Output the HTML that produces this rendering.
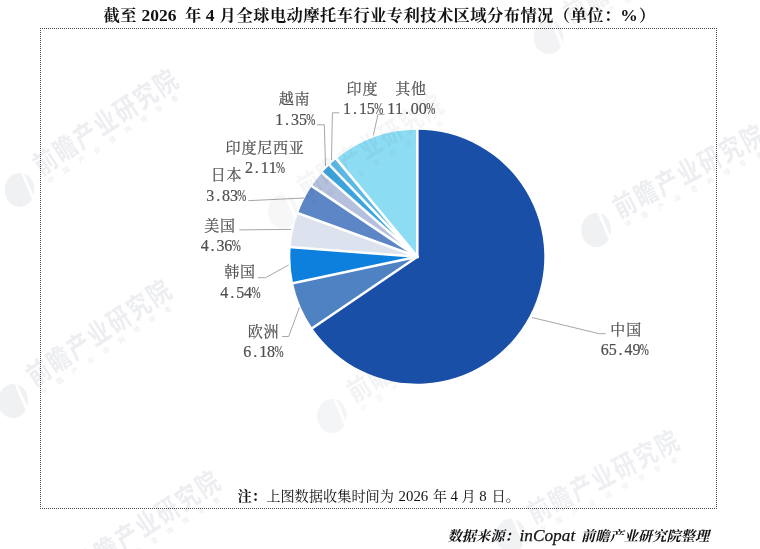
<!DOCTYPE html>
<html lang="zh-CN">
<head>
<meta charset="utf-8">
<title>截至2026年4月全球电动摩托车行业专利技术区域分布情况（单位：%）</title>
<style>
html,body{margin:0;padding:0;background:#fff}
body{width:760px;height:549px;overflow:hidden;font-family:"Liberation Serif",serif}
svg{display:block;position:absolute;left:0;top:0;will-change:transform}
text{white-space:pre}
.wm1{font-family:"Liberation Sans","Noto Sans CJK SC",sans-serif;font-size:22px;font-weight:bold}
.wm2{font-family:"Liberation Sans","Noto Sans CJK SC",sans-serif;font-size:7px;font-weight:bold}
.lab{font-family:"Liberation Serif","Noto Serif CJK SC",serif;font-size:15px}
.ttl{font-family:"Liberation Serif","Noto Serif CJK SC",serif;font-size:16.3px;font-weight:bold}
.nt{font-family:"Liberation Serif","Noto Serif CJK SC",serif;font-size:14.2px}
.src{font-family:"Liberation Serif","Noto Serif CJK SC",serif;font-size:14.2px;font-weight:bold}
</style>
</head>
<body>
<svg width="760" height="549" viewBox="0 0 760 549" role="img" aria-label="截至2026年4月全球电动摩托车行业专利技术区域分布情况（单位：%）">
<path d="M40 28.5H717M40 508.5H717M40.5 28V509M716.5 28V509" fill="none" stroke="#444" stroke-width="1" stroke-dasharray="1 1" shape-rendering="crispEdges"/>
<g><path d="M417.3 256.7L417.3 129.7A127.0 127.0 0 1 1 312.34 328.19Z" fill="#1a4fa8"><title>中国 65.49%</title></path><path d="M417.3 256.7L312.34 328.19A127.0 127.0 0 0 1 293.08 283.13Z" fill="#4e82c2"><title>欧洲 6.18%</title></path><path d="M417.3 256.7L293.08 283.13A127.0 127.0 0 0 1 290.66 247.11Z" fill="#0c80dc"><title>韩国 4.54%</title></path><path d="M417.3 256.7L290.66 247.11A127.0 127.0 0 0 1 297.98 213.22Z" fill="#dce2ee"><title>美国 4.36%</title></path><path d="M417.3 256.7L297.98 213.22A127.0 127.0 0 0 1 311.78 186.03Z" fill="#5c86c6"><title>日本 3.83%</title></path><path d="M417.3 256.7L311.78 186.03A127.0 127.0 0 0 1 322.04 172.71Z" fill="#b4c0dc"><title>印度尼西亚 2.11%</title></path><path d="M417.3 256.7L322.04 172.71A127.0 127.0 0 0 1 329.5 164.94Z" fill="#3ca4dc"><title>越南 1.35%</title></path><path d="M417.3 256.7L329.5 164.94A127.0 127.0 0 0 1 336.35 158.84Z" fill="#5cb8e4"><title>印度 1.15%</title></path><path d="M417.3 256.7L336.35 158.84A127.0 127.0 0 0 1 417.3 129.7Z" fill="#8cdcf4"><title>其他 11.00%</title></path></g>
<path d="M417.3 256.7L417.3 128.2M417.3 256.7L311.1 329.04M417.3 256.7L291.61 283.45M417.3 256.7L289.17 247M417.3 256.7L296.57 212.7M417.3 256.7L310.53 185.2M417.3 256.7L320.92 171.71M417.3 256.7L328.46 163.85M417.3 256.7L335.4 157.68" stroke="#fff" stroke-width="2.6" fill="none" stroke-linecap="butt"/>
<circle cx="417.3" cy="256.7" r="1.8" fill="#fff"/>
<g fill="none" stroke="#a6a6a6" stroke-width="1"><polyline points="532,317.5 599.2,333.7 605.7,333.7"/><polyline points="299.4,307.4 288.7,336.5 282.2,336.5"/><polyline points="288.7,265 265.5,277.7 257.9,277.7"/><polyline points="291,229.4 239.3,229.9"/><polyline points="304,198 248.2,200.7"/><polyline points="325.5,166 324.3,124.8 316.8,124.8"/><polyline points="331.5,160 332.4,112.8 339.4,112.8"/><polyline points="373.3,135.3 378,114.3 384.5,114.3"/></g>
<mask id="wmm" maskUnits="userSpaceOnUse" x="0" y="0" width="760" height="549"><rect width="760" height="549" fill="#fff"/><path d="M417.3 256.7L417.3 129.7A127.0 127.0 0 1 1 312.34 328.19Z" fill="#404040"/></mask>
<g style="mix-blend-mode:multiply" mask="url(#wmm)"><g><g transform="translate(19.49,189.86) scale(0.9)" fill="#f0f1f3"><path d="M1.5 -19C-9 -19.5 -16.5 -10 -16.5 0C-16.5 11 -9 19 0 19C6 19 11 15.5 14 10.5Z"/><path d="M5 -18.2C12 -16 16.5 -8.5 16.5 0C16.5 2 16.2 4 15.7 6Z"/></g><g transform="translate(41.5,176) rotate(-33.3)" fill="#edeef1"><g transform="scale(1,1.25)"><text class="wm1" x="0 24 48 72 96 120 144" y="0">前瞻产业研究院</text></g><text class="wm2" fill="#f0f1f3" x="2 20.5 39 57.5 76 94.5 113 131.5 150" y="11">中国产业咨询领导者</text></g></g><g><g transform="translate(13.04,400.93) scale(0.9)" fill="#f0f1f3"><path d="M1.5 -19C-9 -19.5 -16.5 -10 -16.5 0C-16.5 11 -9 19 0 19C6 19 11 15.5 14 10.5Z"/><path d="M5 -18.2C12 -16 16.5 -8.5 16.5 0C16.5 2 16.2 4 15.7 6Z"/></g><g transform="translate(35,387) rotate(-33.5)" fill="#edeef1"><g transform="scale(1,1.25)"><text class="wm1" x="0 24 48 72 96 120 144" y="0">前瞻产业研究院</text></g><text class="wm2" fill="#f0f1f3" x="2 20.5 39 57.5 76 94.5 113 131.5 150" y="11">中国产业咨询领导者</text></g></g><g opacity="0.55"><g transform="translate(282.69,211.35) scale(0.9)" fill="#f0f1f3"><path d="M1.5 -19C-9 -19.5 -16.5 -10 -16.5 0C-16.5 11 -9 19 0 19C6 19 11 15.5 14 10.5Z"/><path d="M5 -18.2C12 -16 16.5 -8.5 16.5 0C16.5 2 16.2 4 15.7 6Z"/></g><g transform="translate(305,198) rotate(-32)" fill="#edeef1"><g transform="scale(1,1.25)"><text class="wm1" x="0 24 48 72 96 120 144" y="0">前瞻产业研究院</text></g><text class="wm2" fill="#f0f1f3" x="2 20.5 39 57.5 76 94.5 113 131.5 150" y="11">中国产业咨询领导者</text></g></g><g opacity="0.7"><g transform="translate(331.96,415.96) scale(0.9)" fill="#f0f1f3"><path d="M1.5 -19C-9 -19.5 -16.5 -10 -16.5 0C-16.5 11 -9 19 0 19C6 19 11 15.5 14 10.5Z"/><path d="M5 -18.2C12 -16 16.5 -8.5 16.5 0C16.5 2 16.2 4 15.7 6Z"/></g><g transform="translate(354.5,403) rotate(-31)" fill="#edeef1"><g transform="scale(1,1.25)"><text class="wm1" x="0 24 48 72 96 120 144" y="0">前瞻产业研究院</text></g><text class="wm2" fill="#f0f1f3" x="2 20.5 39 57.5 76 94.5 113 131.5 150" y="11">中国产业咨询领导者</text></g></g><g><g transform="translate(596.11,229.96) scale(0.9)" fill="#f0f1f3"><path d="M1.5 -19C-9 -19.5 -16.5 -10 -16.5 0C-16.5 11 -9 19 0 19C6 19 11 15.5 14 10.5Z"/><path d="M5 -18.2C12 -16 16.5 -8.5 16.5 0C16.5 2 16.2 4 15.7 6Z"/></g><g transform="translate(619.4,218.4) rotate(-27.5)" fill="#edeef1"><g transform="scale(1,1.25)"><text class="wm1" x="0 24 48 72 96 120 144" y="0">前瞻产业研究院</text></g><text class="wm2" fill="#f0f1f3" x="2 20.5 39 57.5 76 94.5 113 131.5 150" y="11">中国产业咨询领导者</text></g></g><g opacity="0.8"><g transform="translate(548.46,36.96) scale(0.9)" fill="#f0f1f3"><path d="M1.5 -19C-9 -19.5 -16.5 -10 -16.5 0C-16.5 11 -9 19 0 19C6 19 11 15.5 14 10.5Z"/><path d="M5 -18.2C12 -16 16.5 -8.5 16.5 0C16.5 2 16.2 4 15.7 6Z"/></g><g transform="translate(571,24) rotate(-31)" fill="#edeef1"><g transform="scale(1,1.25)"><text class="wm1" x="0 24 48 72 96 120 144" y="0">前瞻产业研究院</text></g><text class="wm2" fill="#f0f1f3" x="2 20.5 39 57.5 76 94.5 113 131.5 150" y="11">中国产业咨询领导者</text></g></g><g opacity="0.9"><g transform="translate(510.71,535.56) scale(0.9)" fill="#f0f1f3"><path d="M1.5 -19C-9 -19.5 -16.5 -10 -16.5 0C-16.5 11 -9 19 0 19C6 19 11 15.5 14 10.5Z"/><path d="M5 -18.2C12 -16 16.5 -8.5 16.5 0C16.5 2 16.2 4 15.7 6Z"/></g><g transform="translate(534,524) rotate(-27.5)" fill="#edeef1"><g transform="scale(1,1.25)"><text class="wm1" x="0 24 48 72 96 120 144" y="0">前瞻产业研究院</text></g><text class="wm2" fill="#f0f1f3" x="2 20.5 39 57.5 76 94.5 113 131.5 150" y="11">中国产业咨询领导者</text></g></g><g><g transform="translate(60.92,590.74) scale(0.9)" fill="#f0f1f3"><path d="M1.5 -19C-9 -19.5 -16.5 -10 -16.5 0C-16.5 11 -9 19 0 19C6 19 11 15.5 14 10.5Z"/><path d="M5 -18.2C12 -16 16.5 -8.5 16.5 0C16.5 2 16.2 4 15.7 6Z"/></g><g transform="translate(83,577) rotate(-33)" fill="#edeef1"><g transform="scale(1,1.25)"><text class="wm1" x="0 24 48 72 96 120 144" y="0">前瞻产业研究院</text></g><text class="wm2" fill="#f0f1f3" x="2 20.5 39 57.5 76 94.5 113 131.5 150" y="11">中国产业咨询领导者</text></g></g></g>
<g fill="#4f4f4f" font-family="Liberation Serif, serif" stroke="#4f4f4f" stroke-width="0.2"><text class="lab" x="225.6 241.4 257.2 273 288.8" y="152.6">印度尼西亚</text><text y="173.4" font-size="16" text-anchor="middle"><tspan x="248.95 256.85 264.75 272.65">2.11</tspan></text><text transform="translate(280.55,173.4) scale(0.68,1)" font-size="16" text-anchor="middle">%</text><text class="lab" x="210.65 226.45" y="180.2">日本</text><text y="200.7" font-size="16" text-anchor="middle"><tspan x="210.25 218.15 226.05 233.95">3.83</tspan></text><text transform="translate(241.85,200.7) scale(0.68,1)" font-size="16" text-anchor="middle">%</text><text class="lab" x="278.7 294.5" y="103.9">越南</text><text y="124.6" font-size="16" text-anchor="middle"><tspan x="279.2 287.1 295 302.9">1.35</tspan></text><text transform="translate(310.8,124.6) scale(0.68,1)" font-size="16" text-anchor="middle">%</text><text class="lab" x="346.6 362.4" y="93.9">印度</text><text y="114.4" font-size="16" text-anchor="middle"><tspan x="347.1 355 362.9 370.8">1.15</tspan></text><text transform="translate(378.7,114.4) scale(0.68,1)" font-size="16" text-anchor="middle">%</text><text class="lab" x="395.2 411" y="93.9">其他</text><text y="114.4" font-size="16" text-anchor="middle"><tspan x="391.15 399.05 406.95 414.85 422.75">11.00</tspan></text><text transform="translate(430.65,114.4) scale(0.68,1)" font-size="16" text-anchor="middle">%</text><text class="lab" x="204.2 220" y="230.5">美国</text><text y="251.3" font-size="16" text-anchor="middle"><tspan x="204.65 212.55 220.45 228.35">4.36</tspan></text><text transform="translate(236.25,251.3) scale(0.68,1)" font-size="16" text-anchor="middle">%</text><text class="lab" x="224.15 239.95" y="277.2">韩国</text><text y="297.9" font-size="16" text-anchor="middle"><tspan x="224.35 232.25 240.15 248.05">4.54</tspan></text><text transform="translate(255.95,297.9) scale(0.68,1)" font-size="16" text-anchor="middle">%</text><text class="lab" x="247.7 263.5" y="337">欧洲</text><text y="357.4" font-size="16" text-anchor="middle"><tspan x="247.35 255.25 263.15 271.05">6.18</tspan></text><text transform="translate(278.95,357.4) scale(0.68,1)" font-size="16" text-anchor="middle">%</text><text class="lab" x="610.35 626.15" y="334.8">中国</text><text y="355.3" font-size="16" text-anchor="middle"><tspan x="604.8 612.7 620.6 628.5 636.4">65.49</tspan></text><text transform="translate(644.3,355.3) scale(0.68,1)" font-size="16" text-anchor="middle">%</text></g>
<g fill="#111" font-family="Liberation Serif, serif" opacity="0.999"><text class="ttl" x="103.5 120.2" y="20.5">截至</text><text class="ttl" x="185" y="20.5">年</text><text class="ttl" x="219.5" y="20.5">月</text><text class="ttl" x="236.5 253.2 269.9 286.6 303.3 320 336.7 353.4 370.1 386.8 403.5 420.2 436.9 453.6 470.3 487 503.7 520.4 537.1 553.8 570.5 587.2 603.9" y="20.5">全球电动摩托车行业专利技术区域分布情况（单位：</text><text class="ttl" x="639" y="20.5">）</text><text transform="translate(141.5,20.5) scale(1.075,1)" font-size="16.3" font-weight="bold">2026</text><text transform="translate(205.7,20.5) scale(1.075,1)" font-size="16.3" font-weight="bold">4</text><text transform="translate(620.3,20.5) scale(1.075,1)" font-size="16.3" font-weight="bold">%</text></g>
<g fill="#111" font-family="Liberation Serif, serif"><text class="nt" font-weight="bold" x="237.5 251.7" y="500.5">注：</text><text class="nt" x="266.2 280.4 294.6 308.8 323 337.2 351.4 365.6 379.8" y="500.5">上图数据收集时间为</text><text class="nt" x="432.8" y="500.5">年</text><text class="nt" x="461.5" y="500.5">月</text><text class="nt" x="491.5 505.7" y="500.5">日。</text><text x="398.6" y="500.5" font-size="14.8">2026</text><text x="450.6" y="500.5" font-size="14.8">4</text><text x="479.2" y="500.5" font-size="14.8">8</text></g>
<g fill="#111" font-family="Liberation Serif, serif"><g transform="translate(447.5,541.3) skewX(-14)"><text class="src" x="0 14.25 28.5 42.75 57" y="0">数据来源：</text></g><g transform="translate(581,541.3) skewX(-14)"><text class="src" x="0 14.25 28.5 42.75 57 71.25 85.5 99.75 114" y="0">前瞻产业研究院整理</text></g><text x="519.5" y="541.3" font-size="17.3" font-style="italic" stroke="#111" stroke-width="0.25">inCopat</text></g>
</svg>
</body>
</html>
